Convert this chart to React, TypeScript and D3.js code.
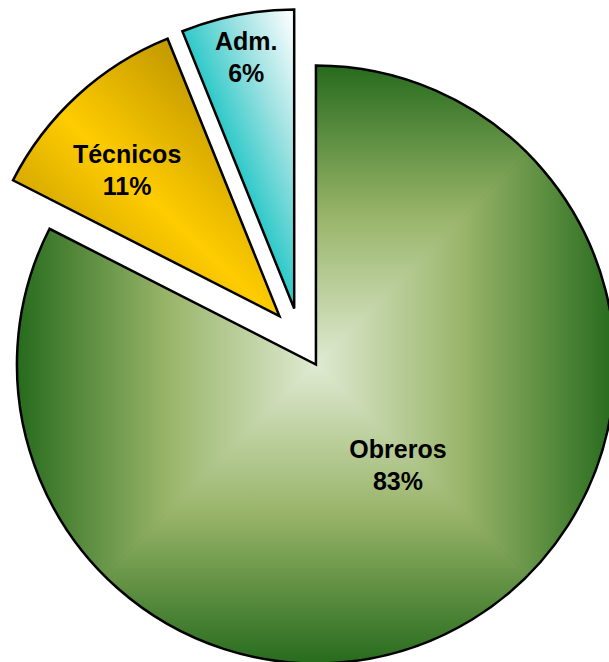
import React from 'react';
import * as d3 from 'd3';

// ---- data ----
const categories = ['Obreros', 'Técnicos', 'Adm.'];
const values = [82.5, 11.4, 6.1];
const percentLabels = ['83%', '11%', '6%'];

// ---- layout ----
const W = 609;
const H = 662;
const CX = 300;
const CY = 338.5;
const R = 299;
const EXPLODE = 30.5;
const FONT = 25;
const LINE = 32;
// label placement relative to each slice's own tip: angle shift (deg) from bisector, radius fraction
const LABEL_POS = [
  { shift: -7.6, frac: 0.435 },
  { shift: -3.7, frac: 0.706 },
  { shift: 0.2, frac: 0.857 },
];

export default function App() {
  const pie = d3.pie<number>().sort(null).startAngle(0).endAngle(2 * Math.PI);
  const arcs = pie(values);
  const arcGen = d3.arc<d3.PieArcDatum<number>>().innerRadius(0).outerRadius(R);

  const greenStops = [
    { o: 0, c: '#dfead2' },
    { o: 0.5, c: '#98b468' },
    { o: 1, c: '#276b1d' },
  ];
  const B = R + 6;
  const tri = [
    { pts: [[0, 0], [-B, -B], [B, -B]], g: [0, -B] },
    { pts: [[0, 0], [-B, B], [B, B]], g: [0, B] },
    { pts: [[0, 0], [-B, -B], [-B, B]], g: [-B, 0] },
    { pts: [[0, 0], [B, -B], [B, B]], g: [B, 0] },
  ];

  return (
    <svg
      width={W}
      height={H}
      style={{ position: 'absolute', left: 0, top: 0, background: '#ffffff' }}
    >
      {arcs.map((a, i) => {
        const mid = (a.startAngle + a.endAngle) / 2;
        const ox = CX + Math.sin(mid) * EXPLODE;
        const oy = CY - Math.cos(mid) * EXPLODE;
        const path = arcGen(a) || '';
        const lp = LABEL_POS[i];
        const la = mid + (lp.shift * Math.PI) / 180;
        const lx = Math.sin(la) * R * lp.frac;
        const ly = -Math.cos(la) * R * lp.frac;
        const edgeA = a.startAngle;
        let fillContent: React.ReactNode = null;
        if (i === 0) {
          fillContent = (
            <g clipPath={`url(#clip${i})`}>
              <defs>
                <radialGradient id="obBase" gradientUnits="userSpaceOnUse" cx={0} cy={0} r={R * 1.15}>
                  {greenStops.map((s) => (
                    <stop key={s.o} offset={s.o} stopColor={s.c} />
                  ))}
                </radialGradient>
                {tri.map((t, k) => (
                  <linearGradient
                    key={k}
                    id={`obTri${k}`}
                    gradientUnits="userSpaceOnUse"
                    x1={0}
                    y1={0}
                    x2={t.g[0] * (R / B)}
                    y2={t.g[1] * (R / B)}
                  >
                    {greenStops.map((s) => (
                      <stop key={s.o} offset={s.o} stopColor={s.c} />
                    ))}
                  </linearGradient>
                ))}
              </defs>
              <path d={path} fill="url(#obBase)" />
              {tri.map((t, k) => (
                <polygon
                  key={k}
                  points={t.pts.map((p) => p.join(',')).join(' ')}
                  fill={`url(#obTri${k})`}
                />
              ))}
            </g>
          );
        } else if (i === 1) {
          fillContent = (
            <g>
              <defs>
                <linearGradient id="tecGrad" gradientUnits="userSpaceOnUse" x1={-205} y1={-18} x2={-33} y2={-198}>
                  <stop offset={0} stopColor="#c39a00" />
                  <stop offset={0.5} stopColor="#ffcc00" />
                  <stop offset={1} stopColor="#c39a00" />
                </linearGradient>
              </defs>
              <path d={path} fill="url(#tecGrad)" />
            </g>
          );
        } else {
          const ux = Math.cos(edgeA);
          const uy = Math.sin(edgeA);
          const len = R * Math.sin(a.endAngle - a.startAngle) * 0.98;
          fillContent = (
            <g>
              <defs>
                <linearGradient id="admGrad" gradientUnits="userSpaceOnUse" x1={0} y1={0} x2={ux * len} y2={uy * len}>
                  <stop offset={0} stopColor="#2fc9c9" />
                  <stop offset={0.5} stopColor="#9fe2e2" />
                  <stop offset={1} stopColor="#ffffff" />
                </linearGradient>
              </defs>
              <path d={path} fill="url(#admGrad)" />
            </g>
          );
        }
        return (
          <g key={categories[i]} transform={`translate(${ox},${oy})`}>
            <defs>
              <clipPath id={`clip${i}`}>
                <path d={path} />
              </clipPath>
            </defs>
            {fillContent}
            <path d={path} fill="none" stroke="#000000" strokeWidth={2.5} strokeLinejoin="miter" />
            <text
              x={lx}
              y={ly - 7}
              textAnchor="middle"
              fontFamily="'Liberation Sans', Arial, sans-serif"
              fontWeight="bold"
              fontSize={FONT}
              fill="#000000"
            >
              {categories[i]}
            </text>
            <text
              x={lx}
              y={ly + LINE - 7}
              textAnchor="middle"
              fontFamily="'Liberation Sans', Arial, sans-serif"
              fontWeight="bold"
              fontSize={FONT}
              fill="#000000"
            >
              {percentLabels[i]}
            </text>
          </g>
        );
      })}
    </svg>
  );
}
